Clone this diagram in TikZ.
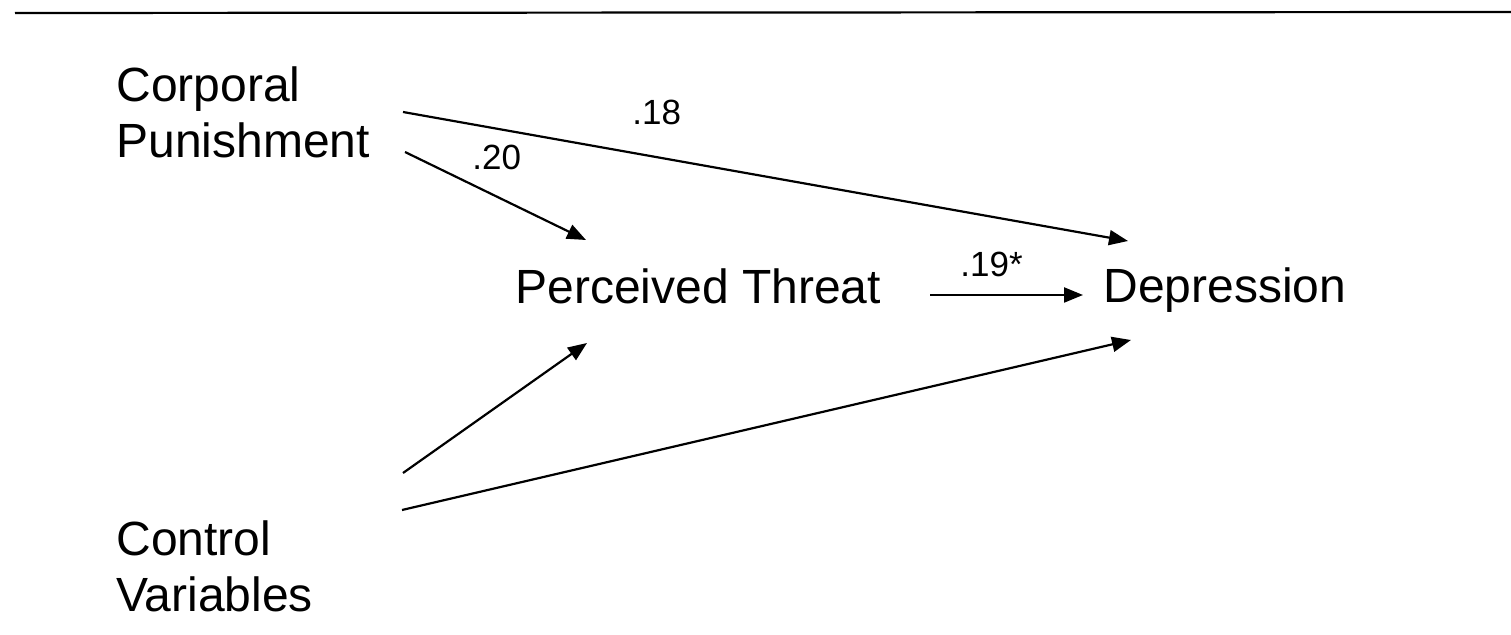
\documentclass[tikz,border=0pt]{standalone}
\usepackage{fontspec}
\setmainfont{Liberation Sans}
\usetikzlibrary{arrows.meta}
\begin{document}
\begin{tikzpicture}[x=0.5pt,y=-0.5pt,
  var/.style={inner sep=0pt,anchor=base west,align=left,font=\fontsize{24}{28}\selectfont},
  coef/.style={inner sep=0pt,anchor=base west,font=\fontsize{17.5}{20}\selectfont},
  path/.style={line width=1.1pt,-{Triangle[length=9.5pt,width=7.5pt]}}]
\useasboundingbox (0,0) rectangle (1511,635);
\draw[line width=1.1pt] (15,13) -- (1511,12);
% variables
\node[var] (cp) at (116,158) {Corporal\\Punishment};
\node[var] (pt) at (515,304) {Perceived Threat};
\node[var] (dep) at (1103,303) {Depression};
\node[var] (cv) at (116,612) {Control\\Variables};
% connector end points
\coordinate (cpA) at (403,112);
\coordinate (cpB) at (405,152);
\coordinate (cvA) at (403,473);
\coordinate (cvB) at (402,510);
\coordinate (ptIn1) at (586,240);
\coordinate (ptIn2) at (587,343);
\coordinate (ptOut) at (930,295);
\coordinate (depIn1) at (1128,241);
\coordinate (depIn2) at (1083,295);
\coordinate (depIn3) at (1131,340);
% connectors
\draw[path] (cpA) -- (depIn1);
\draw[path] (cpB) -- (ptIn1);
\draw[path] (cvA) -- (ptIn2);
\draw[path] (cvB) -- (depIn3);
\draw[path] (ptOut) -- (depIn2);
% coefficients
\node[coef] (c18) at (632,125) {.18};
\node[coef] (c20) at (472,170) {.20};
\node[coef] (c19) at (960,277) {.19*};
\end{tikzpicture}
\end{document}
